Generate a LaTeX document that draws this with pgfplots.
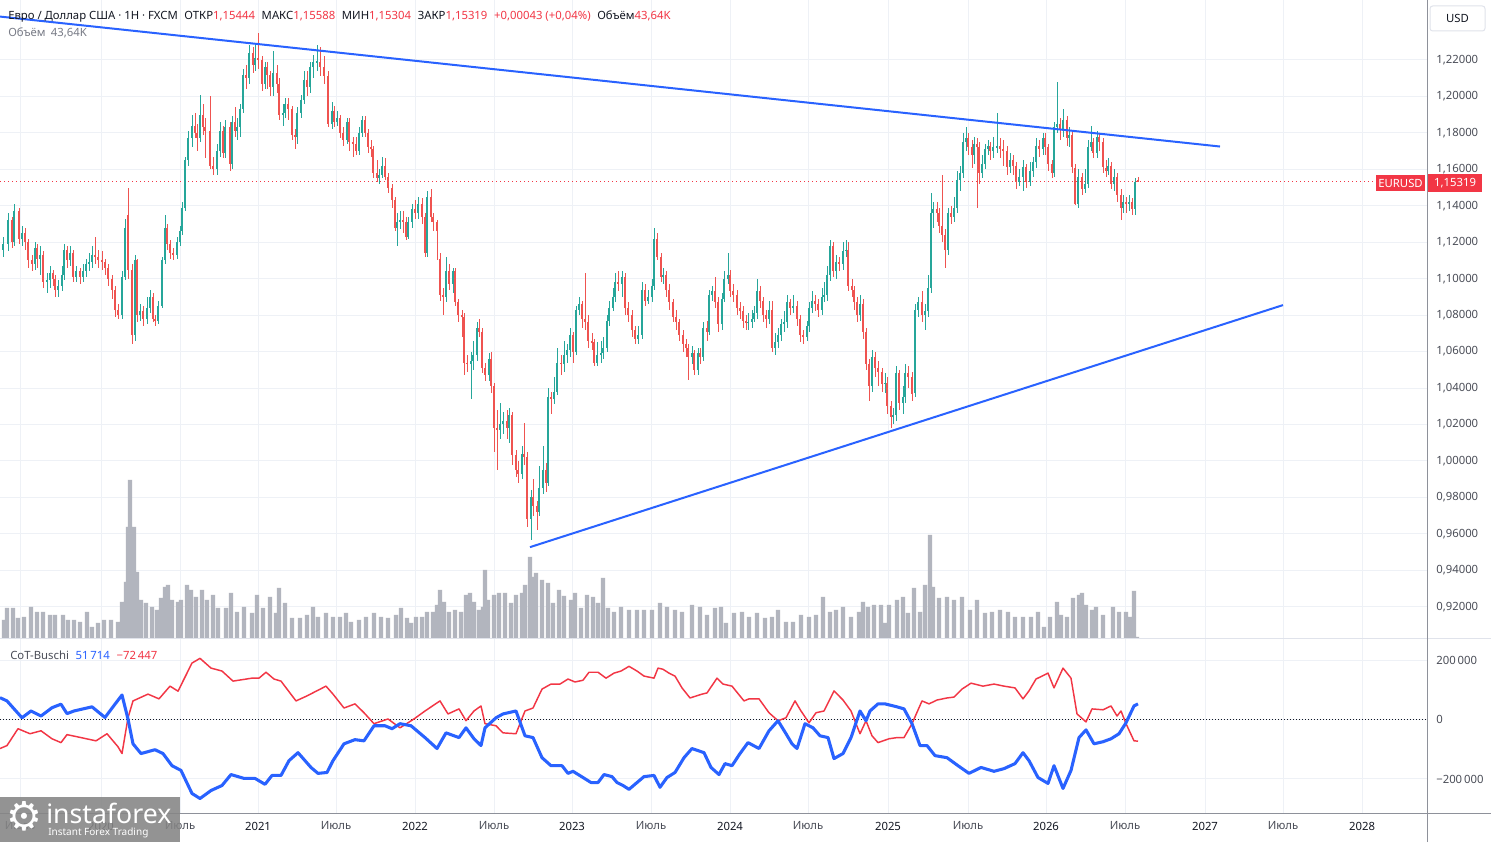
\documentclass[border=0pt]{standalone}
\usepackage{fontspec}
\setmainfont{Noto Sans}
\newfontfamily\symfont{DejaVu Sans}
\usepackage{pgfplots}
\usepackage{pgfplotstable}
\pgfplotsset{compat=1.18}
\definecolor{upc}{HTML}{26A69A}
\definecolor{dnc}{HTML}{EF5350}
\definecolor{tvred}{HTML}{F23645}
\definecolor{tvblue}{HTML}{2962FF}
\definecolor{gridc}{HTML}{EEF1F6}
\definecolor{txt}{HTML}{131722}
\definecolor{txt2}{HTML}{4A4D57}
\definecolor{txt3}{HTML}{787B86}
\definecolor{volc}{HTML}{B2B5BE}
\definecolor{sepc}{HTML}{E0E3EB}
\definecolor{axc}{HTML}{8E919A}
\definecolor{logoc}{HTML}{858585}

\pgfplotstableread{
x o c h l
3 1.116 1.119 1.123 1.112
8 1.119 1.132 1.136 1.115
12 1.132 1.120 1.134 1.117
14 1.120 1.137 1.141 1.118
19 1.137 1.122 1.139 1.119
22 1.122 1.125 1.129 1.118
25 1.125 1.120 1.128 1.116
28 1.120 1.110 1.122 1.106
32 1.110 1.108 1.113 1.104
35 1.108 1.117 1.120 1.105
37 1.117 1.111 1.119 1.106
40 1.111 1.113 1.118 1.102
43 1.113 1.098 1.115 1.095
47 1.098 1.099 1.103 1.092
50 1.099 1.103 1.107 1.095
53 1.103 1.100 1.105 1.096
55 1.100 1.094 1.102 1.090
58 1.094 1.096 1.099 1.090
62 1.096 1.102 1.107 1.093
64 1.102 1.116 1.119 1.099
67 1.116 1.110 1.118 1.106
70 1.110 1.114 1.118 1.107
73 1.114 1.101 1.116 1.098
76 1.101 1.104 1.107 1.098
80 1.104 1.101 1.106 1.097
83 1.101 1.104 1.108 1.098
86 1.104 1.108 1.111 1.101
89 1.108 1.109 1.114 1.104
92 1.109 1.113 1.118 1.106
95 1.113 1.112 1.123 1.108
98 1.112 1.110 1.116 1.106
102 1.110 1.109 1.115 1.105
105 1.109 1.106 1.111 1.102
108 1.106 1.100 1.108 1.096
112 1.100 1.094 1.102 1.089
115 1.094 1.083 1.096 1.079
118 1.083 1.080 1.086 1.078
122 1.080 1.101 1.104 1.078
125 1.101 1.128 1.133 1.099
128 1.135 1.105 1.150 1.100
132 1.105 1.069 1.108 1.064
135 1.069 1.110 1.113 1.066
137 1.110 1.080 1.111 1.076
140 1.080 1.082 1.086 1.077
143 1.082 1.078 1.085 1.074
147 1.078 1.084 1.090 1.075
150 1.084 1.090 1.094 1.081
153 1.090 1.078 1.092 1.076
155 1.078 1.077 1.080 1.074
158 1.077 1.085 1.088 1.075
162 1.085 1.110 1.112 1.084
165 1.110 1.128 1.135 1.108
167 1.128 1.119 1.130 1.116
170 1.119 1.114 1.121 1.111
173 1.114 1.113 1.117 1.110
177 1.113 1.120 1.123 1.111
180 1.120 1.126 1.129 1.118
182 1.126 1.139 1.142 1.124
185 1.139 1.165 1.167 1.137
188 1.165 1.177 1.181 1.162
192 1.177 1.184 1.190 1.172
195 1.184 1.180 1.191 1.177
197 1.180 1.177 1.185 1.170
200 1.177 1.190 1.201 1.175
203 1.190 1.183 1.196 1.179
205 1.183 1.181 1.188 1.166
210 1.181 1.162 1.200 1.160
213 1.162 1.160 1.167 1.157
217 1.160 1.170 1.174 1.157
220 1.170 1.181 1.186 1.167
223 1.181 1.169 1.184 1.166
225 1.169 1.183 1.187 1.166
230 1.183 1.163 1.186 1.159
232 1.163 1.186 1.189 1.160
235 1.186 1.181 1.194 1.178
237 1.181 1.183 1.188 1.176
240 1.183 1.193 1.196 1.178
243 1.193 1.212 1.215 1.191
246 1.212 1.210 1.217 1.204
249 1.210 1.224 1.228 1.207
253 1.224 1.217 1.227 1.213
255 1.217 1.221 1.229 1.214
258 1.221 1.220 1.235 1.215
262 1.220 1.207 1.222 1.203
265 1.207 1.216 1.219 1.204
267 1.216 1.212 1.219 1.204
270 1.212 1.205 1.214 1.200
273 1.205 1.213 1.225 1.200
277 1.213 1.207 1.217 1.202
279 1.207 1.190 1.210 1.187
283 1.190 1.191 1.196 1.184
285 1.191 1.196 1.199 1.188
288 1.196 1.193 1.199 1.187
292 1.193 1.179 1.195 1.176
295 1.179 1.178 1.182 1.171
297 1.178 1.191 1.194 1.174
301 1.191 1.198 1.201 1.188
304 1.198 1.209 1.214 1.196
307 1.209 1.205 1.214 1.200
310 1.205 1.216 1.219 1.202
313 1.216 1.219 1.223 1.210
317 1.219 1.219 1.228 1.214
320 1.219 1.216 1.227 1.211
324 1.216 1.211 1.222 1.207
328 1.211 1.185 1.214 1.183
332 1.185 1.192 1.197 1.182
334 1.192 1.186 1.195 1.183
337 1.186 1.188 1.192 1.184
340 1.188 1.180 1.190 1.177
343 1.180 1.176 1.183 1.173
347 1.176 1.186 1.188 1.174
349 1.186 1.175 1.188 1.170
353 1.175 1.174 1.178 1.167
356 1.174 1.170 1.178 1.168
359 1.170 1.180 1.183 1.168
362 1.180 1.187 1.189 1.178
365 1.187 1.180 1.189 1.178
368 1.180 1.172 1.182 1.169
371 1.172 1.171 1.176 1.167
373 1.171 1.158 1.173 1.155
377 1.158 1.155 1.165 1.153
379 1.155 1.157 1.160 1.152
382 1.157 1.162 1.167 1.155
385 1.162 1.156 1.166 1.154
388 1.156 1.150 1.158 1.147
392 1.150 1.143 1.152 1.139
395 1.143 1.128 1.145 1.126
397 1.128 1.131 1.136 1.118
400 1.131 1.132 1.137 1.127
403 1.132 1.131 1.137 1.125
406 1.131 1.123 1.134 1.121
408 1.123 1.131 1.134 1.122
412 1.131 1.138 1.141 1.128
415 1.138 1.136 1.143 1.133
418 1.136 1.141 1.145 1.133
422 1.141 1.134 1.144 1.130
425 1.134 1.114 1.136 1.112
427 1.114 1.145 1.148 1.112
431 1.145 1.134 1.149 1.131
433 1.134 1.131 1.136 1.126
437 1.131 1.126 1.132 1.110
440 1.111 1.091 1.114 1.088
443 1.091 1.090 1.095 1.080
446 1.090 1.104 1.112 1.087
449 1.104 1.097 1.108 1.094
453 1.097 1.104 1.106 1.092
455 1.104 1.087 1.106 1.085
458 1.087 1.080 1.089 1.076
462 1.080 1.079 1.083 1.068
464 1.079 1.054 1.081 1.047
467 1.054 1.053 1.058 1.049
471 1.053 1.055 1.060 1.034
473 1.055 1.058 1.066 1.050
477 1.058 1.073 1.076 1.055
479 1.073 1.071 1.078 1.068
482 1.071 1.051 1.073 1.048
485 1.051 1.047 1.054 1.044
489 1.047 1.056 1.059 1.044
491 1.056 1.041 1.060 1.037
494 1.041 1.018 1.043 1.005
497 1.018 1.017 1.028 0.995
500 1.017 1.020 1.032 1.012
503 1.020 1.022 1.027 1.015
507 1.022 1.018 1.028 1.012
509 1.018 1.025 1.029 1.010
512 1.025 1.003 1.027 0.998
516 1.003 0.995 1.006 0.991
518 0.995 0.993 1.000 0.988
522 0.993 1.004 1.008 0.990
524 1.004 1.002 1.021 0.998
527 1.002 0.968 1.005 0.964
531 0.968 0.980 0.984 0.9567
533 0.980 0.975 0.990 0.970
537 0.975 0.972 0.978 0.962
539 0.972 0.985 0.997 0.970
543 0.985 0.995 1.008 0.982
546 0.995 0.988 0.999 0.983
548 0.988 1.035 1.040 0.986
551 1.035 1.034 1.038 1.026
554 1.034 1.038 1.046 1.031
557 1.038 1.054 1.062 1.036
561 1.054 1.053 1.058 1.047
564 1.053 1.058 1.066 1.049
567 1.058 1.061 1.064 1.054
570 1.061 1.069 1.073 1.057
573 1.069 1.060 1.071 1.054
576 1.060 1.083 1.085 1.058
579 1.083 1.086 1.090 1.080
582 1.086 1.078 1.088 1.073
585 1.078 1.076 1.103 1.072
588 1.076 1.066 1.080 1.062
592 1.066 1.065 1.070 1.061
594 1.065 1.054 1.067 1.052
597 1.054 1.058 1.065 1.052
601 1.058 1.059 1.066 1.054
603 1.059 1.062 1.068 1.056
607 1.062 1.077 1.080 1.060
609 1.077 1.084 1.088 1.074
613 1.084 1.090 1.095 1.082
615 1.090 1.098 1.103 1.087
618 1.098 1.097 1.104 1.093
622 1.097 1.101 1.104 1.090
625 1.101 1.084 1.103 1.080
628 1.084 1.080 1.087 1.076
632 1.080 1.072 1.083 1.068
635 1.072 1.067 1.074 1.064
638 1.067 1.069 1.074 1.064
642 1.069 1.094 1.098 1.067
645 1.094 1.088 1.097 1.085
648 1.088 1.090 1.094 1.086
652 1.090 1.096 1.100 1.087
654 1.096 1.122 1.128 1.094
657 1.122 1.112 1.125 1.110
661 1.112 1.101 1.114 1.098
663 1.101 1.102 1.106 1.097
666 1.102 1.094 1.104 1.090
669 1.094 1.087 1.097 1.083
673 1.087 1.079 1.089 1.076
676 1.079 1.076 1.083 1.072
679 1.076 1.069 1.078 1.066
683 1.069 1.064 1.072 1.060
686 1.064 1.062 1.067 1.057
688 1.062 1.057 1.064 1.0445
692 1.057 1.059 1.063 1.053
694 1.059 1.050 1.061 1.047
698 1.050 1.059 1.062 1.047
700 1.059 1.057 1.062 1.053
703 1.057 1.073 1.076 1.055
707 1.073 1.071 1.077 1.066
709 1.071 1.091 1.094 1.069
712 1.091 1.093 1.096 1.088
715 1.093 1.087 1.101 1.084
718 1.087 1.075 1.090 1.071
722 1.075 1.089 1.092 1.072
724 1.089 1.100 1.104 1.087
728 1.100 1.102 1.114 1.097
730 1.102 1.093 1.105 1.090
733 1.093 1.091 1.097 1.087
737 1.091 1.084 1.094 1.080
740 1.084 1.082 1.087 1.078
743 1.082 1.077 1.085 1.073
746 1.077 1.076 1.080 1.072
748 1.076 1.076 1.081 1.072
752 1.076 1.078 1.083 1.073
754 1.078 1.081 1.085 1.076
757 1.081 1.093 1.100 1.078
760 1.093 1.088 1.096 1.084
763 1.088 1.080 1.090 1.076
766 1.080 1.078 1.083 1.073
769 1.078 1.083 1.088 1.075
772 1.083 1.062 1.088 1.060
775 1.062 1.065 1.070 1.058
778 1.065 1.069 1.073 1.062
781 1.069 1.075 1.078 1.066
784 1.075 1.076 1.082 1.071
787 1.076 1.087 1.091 1.073
790 1.087 1.084 1.089 1.080
793 1.084 1.085 1.091 1.081
797 1.085 1.078 1.088 1.074
800 1.078 1.069 1.080 1.065
803 1.069 1.068 1.072 1.064
807 1.068 1.074 1.077 1.066
809 1.074 1.084 1.087 1.071
812 1.084 1.088 1.093 1.081
815 1.088 1.086 1.091 1.082
818 1.086 1.083 1.089 1.079
822 1.083 1.090 1.095 1.080
824 1.090 1.091 1.098 1.087
827 1.091 1.102 1.107 1.088
830 1.102 1.118 1.121 1.099
833 1.118 1.104 1.120 1.101
836 1.104 1.109 1.113 1.100
839 1.109 1.108 1.112 1.104
843 1.108 1.115 1.120 1.105
846 1.115 1.116 1.121 1.112
848 1.116 1.096 1.120 1.093
852 1.096 1.094 1.100 1.090
854 1.094 1.087 1.096 1.083
857 1.087 1.080 1.090 1.076
860 1.080 1.086 1.091 1.077
863 1.086 1.071 1.089 1.067
866 1.071 1.053 1.073 1.050
869 1.053 1.041 1.056 1.033
872 1.041 1.057 1.061 1.038
875 1.057 1.051 1.060 1.046
878 1.051 1.049 1.055 1.041
882 1.049 1.042 1.051 1.038
885 1.042 1.043 1.048 1.037
887 1.043 1.030 1.046 1.026
891 1.030 1.024 1.033 1.018
893 1.024 1.025 1.029 1.020
896 1.025 1.048 1.052 1.022
899 1.048 1.032 1.050 1.028
903 1.032 1.035 1.041 1.026
905 1.035 1.048 1.053 1.032
908 1.048 1.046 1.052 1.040
912 1.046 1.037 1.049 1.033
915 1.037 1.083 1.086 1.035
918 1.083 1.087 1.090 1.079
922 1.087 1.080 1.093 1.076
925 1.080 1.082 1.086 1.072
928 1.082 1.095 1.102 1.079
931 1.095 1.136 1.147 1.092
933 1.136 1.138 1.142 1.128
937 1.138 1.136 1.142 1.131
939 1.136 1.129 1.139 1.125
942 1.129 1.124 1.157 1.120
945 1.124 1.116 1.127 1.106
948 1.116 1.136 1.139 1.113
951 1.136 1.134 1.140 1.130
954 1.134 1.139 1.145 1.131
957 1.139 1.154 1.159 1.136
960 1.154 1.158 1.162 1.148
963 1.158 1.175 1.180 1.155
966 1.175 1.177 1.183 1.170
968 1.177 1.172 1.180 1.168
972 1.172 1.168 1.176 1.161
974 1.168 1.174 1.178 1.163
977 1.174 1.172 1.177 1.139
979 1.172 1.158 1.175 1.152
982 1.158 1.163 1.168 1.155
985 1.163 1.171 1.174 1.160
988 1.171 1.173 1.176 1.168
990 1.173 1.170 1.175 1.165
993 1.170 1.172 1.178 1.166
997 1.172 1.173 1.191 1.169
1000 1.173 1.171 1.177 1.166
1003 1.171 1.170 1.176 1.162
1007 1.170 1.161 1.173 1.157
1010 1.161 1.165 1.169 1.158
1013 1.165 1.162 1.168 1.157
1016 1.162 1.153 1.164 1.149
1019 1.153 1.156 1.160 1.151
1023 1.156 1.161 1.165 1.148
1026 1.161 1.153 1.163 1.150
1030 1.153 1.159 1.164 1.151
1033 1.159 1.164 1.167 1.156
1036 1.164 1.173 1.177 1.161
1039 1.173 1.171 1.176 1.167
1043 1.171 1.177 1.180 1.168
1045 1.177 1.172 1.180 1.168
1048 1.172 1.163 1.174 1.159
1052 1.163 1.158 1.165 1.155
1054 1.158 1.183 1.186 1.156
1057 1.183 1.185 1.208 1.180
1060 1.185 1.182 1.188 1.176
1063 1.182 1.187 1.193 1.178
1067 1.187 1.177 1.189 1.173
1069 1.177 1.179 1.183 1.172
1072 1.179 1.161 1.181 1.158
1075 1.161 1.141 1.163 1.1405
1078 1.141 1.156 1.160 1.139
1082 1.156 1.149 1.158 1.146
1085 1.149 1.152 1.160 1.147
1088 1.152 1.172 1.176 1.150
1091 1.172 1.175 1.184 1.170
1093 1.175 1.169 1.177 1.166
1097 1.169 1.178 1.181 1.166
1099 1.178 1.175 1.180 1.170
1103 1.175 1.161 1.177 1.158
1106 1.161 1.159 1.165 1.156
1108 1.159 1.162 1.166 1.157
1111 1.162 1.152 1.164 1.149
1114 1.152 1.156 1.160 1.148
1117 1.156 1.146 1.158 1.142
1121 1.146 1.139 1.149 1.132
1123 1.139 1.142 1.146 1.136
1126 1.142 1.141 1.145 1.136
1129 1.141 1.142 1.146 1.137
1132 1.142 1.138 1.144 1.135
1135 1.138 1.153 1.155 1.135
1138 1.1544 1.1532 1.1559 1.1530
}\candles

\pgfplotstableread{
x v
4 19
7 31
13 31
18 21
24 22
31 32
37 27
43 27
50 24
55 24
63 24
68 19
74 19
80 17
87 27
92 12
98 16
104 19
111 19
118 17
122 37
126 57
128 112
130 159
134 112
137 67
141 39
146 36
152 32
157 29
161 41
165 52
168 54
172 39
178 37
181 39
187 54
191 49
196 42
202 49
207 39
213 44
218 31
226 31
231 46
237 27
244 32
252 26
257 44
263 31
270 42
276 26
279 51
285 36
292 21
300 21
307 24
313 32
318 22
326 26
333 22
340 22
346 26
351 17
359 19
366 22
374 26
381 22
388 21
396 24
401 31
407 21
411 16
416 22
422 22
427 27
433 27
437 34
440 49
444 37
449 27
455 29
461 27
466 44
470 46
474 37
479 29
483 32
485 69
488 39
494 44
499 46
505 46
511 36
516 44
522 46
525 54
530 82
533 62
536 66
542 59
548 56
553 36
559 49
564 43
571 39
575 46
581 31
587 44
593 42
598 36
603 61
608 31
614 27
621 32
629 29
637 29
644 29
652 29
660 36
667 32
675 29
682 27
692 34
700 32
707 24
715 31
721 32
726 16
734 26
742 27
749 22
757 26
765 21
772 22
778 29
786 17
793 17
801 24
809 22
816 24
823 42
830 27
836 29
843 32
851 22
859 27
863 37
868 32
874 34
881 34
885 16
889 34
897 39
903 42
908 26
914 51
920 27
925 54
930 104
933 52
939 41
947 42
954 39
962 42
970 29
977 39
985 26
992 27
1000 29
1008 27
1015 22
1023 22
1031 22
1038 27
1044 12
1050 22
1057 37
1061 24
1067 22
1073 41
1079 44
1082 46
1086 34
1092 29
1096 32
1103 24
1113 32
1119 27
1126 27
1130 22
1134 48
1137 2
}\voltab

\pgfplotstableread{
x v
0 75
7 64
22 7
31 30
41 13
52 41
61 53
67 21
74 30
92 44
105 8
115 53
122 84
128 3
133 -81
141 -114
155 -101
163 -114
172 -155
181 -171
192 -249
200 -266
211 -239
222 -222
231 -185
244 -198
255 -198
265 -218
272 -188
281 -188
289 -138
298 -111
311 -161
318 -181
327 -178
333 -138
344 -81
355 -67
364 -71
374 -20
385 -20
392 -30
400 -13
411 -20
425 -60
437 -97
446 -44
459 -60
466 -27
474 -64
481 -87
485 -27
496 7
503 20
516 30
525 -54
533 -60
542 -128
551 -155
562 -155
568 -181
573 -174
583 -195
591 -212
598 -212
604 -185
612 -192
617 -212
623 -222
629 -235
637 -212
644 -192
654 -188
660 -228
667 -195
675 -178
684 -128
692 -97
704 -111
711 -161
719 -185
725 -148
732 -155
740 -114
748 -77
759 -97
769 -37
778 -3
786 -47
792 -81
797 -97
805 -13
813 -27
820 -54
828 -60
834 -131
843 -114
851 -60
860 30
866 -3
870 30
878 54
885 54
897 44
904 37
912 -13
920 -87
927 -87
935 -121
947 -128
958 -155
969 -181
981 -161
994 -174
1004 -165
1015 -148
1023 -111
1029 -138
1038 -195
1048 -215
1054 -155
1063 -232
1071 -171
1079 -60
1086 -34
1094 -81
1103 -74
1111 -64
1119 -47
1126 -10
1134 47
1138 54
}\cotblue

\pgfplotstableread{
x v
0 -97
7 -87
18 -30
30 -47
41 -37
52 -64
61 -77
67 -50
81 -60
96 -71
107 -47
118 -91
122 -114
128 7
133 64
148 87
159 71
170 114
178 97
192 192
200 208
211 175
222 165
233 131
252 141
259 141
266 161
274 138
281 131
296 64
307 81
326 114
333 87
344 40
355 54
364 24
374 -13
388 3
400 -27
414 3
425 30
440 64
448 20
459 37
466 -3
474 30
481 47
485 -13
496 -20
503 -44
516 -47
525 30
533 40
542 104
551 121
560 121
568 138
575 128
583 134
589 161
598 161
606 141
614 158
621 165
629 181
637 165
644 148
654 141
658 175
663 171
669 158
675 148
682 108
690 74
702 87
707 91
717 141
723 121
732 114
744 64
749 71
759 71
769 24
778 -3
786 7
795 64
801 30
809 -10
816 24
824 30
834 98
843 67
851 30
860 -47
866 -3
872 -54
878 -77
889 -64
897 -60
904 -60
912 -13
922 64
929 54
937 67
947 74
954 77
962 104
971 124
983 114
994 121
1004 114
1015 108
1023 71
1029 98
1036 138
1048 158
1054 108
1063 175
1071 141
1077 20
1086 -7
1092 37
1103 34
1111 47
1117 13
1121 30
1126 -13
1134 -71
1138 -72
}\cotred

\pgfplotsset{
  tvaxis/.style={
    scale only axis, anchor=south west,
    width=1070.25pt, xmin=0, xmax=1427,
    axis line style={draw=none}, major tick length=0pt,
    grid style={draw=gridc, line width=0.75pt},
    xmajorgrids, ymajorgrids,
    xtick={20,101,180,258,336,415,494,572,651,730,808,888,968,1046,1125,1205,1283,1362},
    tick label style={font=\fontsize{8.5}{10}\selectfont, text=txt2},
    yticklabel pos=right,
    yticklabel style={anchor=west, inner sep=0pt, xshift=6.75pt},
    clip=true,
  },
  wick/.style={draw=none, mark=none, forget plot,
    error bars/y dir=both, error bars/y explicit, error bars/error mark=none,
    error bars/error bar style={line width=0.7pt, draw=#1}},
  body/.style={draw=none, mark=none, forget plot,
    error bars/y dir=both, error bars/y explicit, error bars/error mark=none,
    error bars/error bar style={line width=1.65pt, draw=#1}},
}

\begin{document}
\begin{tikzpicture}
\useasboundingbox (0pt,0pt) rectangle (1118.25pt,631.5pt);
\fill[white] (0pt,0pt) rectangle (1118.25pt,631.5pt);

% ---------------- price panel ----------------
\begin{axis}[tvaxis, at={(0pt,152.25pt)}, height=479.25pt,
  ymin=0.9023, ymax=1.2529,
  ytick={0.92,0.94,0.96,0.98,1.00,1.02,1.04,1.06,1.08,1.10,1.12,1.14,1.16,1.18,1.20,1.22},
  yticklabels={{0,92000},{0,94000},{0,96000},{0,98000},{1,00000},{1,02000},{1,04000},{1,06000},{1,08000},{1,10000},{1,12000},{1,14000},{1,16000},{1,18000},{1,20000},{1,22000}},
  xticklabels={}]
  % volume (scaled into the bottom of the price panel)
  \addplot[ybar, bar width=3.3pt, bar shift=0pt, fill=volc, draw=none]
    table[x=x, y expr={0.9023+\thisrow{v}/1822}] {\voltab};
  % last price line
  \addplot[tvred, line width=0.75pt, dash pattern=on 0.75pt off 2.25pt]
    coordinates {(0,1.15319) (1427,1.15319)};
  % wicks
  \addplot[restrict expr to domain={\thisrow{c}-\thisrow{o}}{0:1}, wick=upc]
    table[x=x, y expr={(\thisrow{h}+\thisrow{l})/2}, y error expr={(\thisrow{h}-\thisrow{l})/2}] {\candles};
  \addplot[restrict expr to domain={\thisrow{c}-\thisrow{o}}{-1:-0.00001}, wick=dnc]
    table[x=x, y expr={(\thisrow{h}+\thisrow{l})/2}, y error expr={(\thisrow{h}-\thisrow{l})/2}] {\candles};
  % bodies
  \addplot[restrict expr to domain={\thisrow{c}-\thisrow{o}}{0:1}, body=upc]
    table[x=x, y expr={(\thisrow{o}+\thisrow{c})/2}, y error expr={max(abs(\thisrow{c}-\thisrow{o})/2,0.0003)}] {\candles};
  \addplot[restrict expr to domain={\thisrow{c}-\thisrow{o}}{-1:-0.00001}, body=dnc]
    table[x=x, y expr={(\thisrow{o}+\thisrow{c})/2}, y error expr={max(abs(\thisrow{c}-\thisrow{o})/2,0.0003)}] {\candles};
  % trend lines
  \addplot[tvblue, line width=1.5pt] coordinates {(0,1.2438) (1220,1.1725)};
  \addplot[tvblue, line width=1.5pt] coordinates {(530,0.9527) (1283,1.0855)};
\end{axis}

% ---------------- CoT panel ----------------
\begin{axis}[tvaxis, at={(0pt,21.75pt)}, height=130.5pt,
  ymin=-315, ymax=273.4,
  ytick={-200,0,200},
  yticklabels={{−200\,000},{0},{200\,000}},
  xticklabels={{Июль},{\color{txt}2020},{Июль},{\color{txt}2021},{Июль},{\color{txt}2022},{Июль},{\color{txt}2023},{Июль},{\color{txt}2024},{Июль},{\color{txt}2025},{Июль},{\color{txt}2026},{Июль},{\color{txt}2027},{Июль},{\color{txt}2028}},
  xticklabel style={anchor=center, yshift=-9.75pt, text=txt2}]
  \addplot[txt, line width=0.6pt, dash pattern=on 0.75pt off 1.5pt] coordinates {(0,0) (1427,0)};
  \addplot[tvred, line width=1.1pt, line join=round] table[x=x,y=v] {\cotred};
  \addplot[tvblue, line width=2.3pt, line join=round] table[x=x,y=v] {\cotblue};
\end{axis}

% ---------------- frame lines ----------------
\draw[sepc, line width=0.75pt] (0pt,152.25pt) -- (1118.25pt,152.25pt);
\draw[axc, line width=0.75pt] (0pt,21.75pt) -- (1118.25pt,21.75pt);
\draw[axc, line width=0.75pt] (1070.25pt,0pt) -- (1070.25pt,631.5pt);

% ---------------- labels ----------------
\node[anchor=west, inner sep=0pt, font=\fontsize{8.5}{10}\selectfont, text=txt] at (6pt,618.75pt)
  {Евро / Доллар США · 1H · FXCM\hspace{5pt}ОТКР\textcolor{tvred}{1,15444}\hspace{5pt}МАКС\textcolor{tvred}{1,15588}\hspace{5pt}МИН\textcolor{tvred}{1,15304}\hspace{5pt}ЗАКР\textcolor{tvred}{1,15319}\hspace{5pt}\textcolor{tvred}{+0,00043 (+0,04\%)}\hspace{5pt}Объём\textcolor{tvred}{43,64K}};
\node[anchor=west, inner sep=0pt, font=\fontsize{8.5}{10}\selectfont, text=txt3] at (6pt,606.75pt) {Объём\hspace{4pt}43,64K};
\node[anchor=west, inner sep=0pt, font=\fontsize{8.5}{10}\selectfont, text=txt2] at (7.5pt,140.25pt)
  {CoT-Buschi\hspace{5pt}\textcolor{tvblue}{51\,714}\hspace{5pt}\textcolor{tvred}{−72\,447}};

% USD box
\draw[sepc, rounded corners=2pt, fill=white, line width=0.75pt] (1072.5pt,608.25pt) rectangle (1113.75pt,627pt);
\node[font=\fontsize{8.5}{10}\selectfont, text=txt] at (1093.1pt,617.6pt) {USD};

% last price labels
\fill[tvred] (1032pt,488.25pt) rectangle (1068.75pt,500.25pt);
\node[font=\fontsize{8.5}{10}\selectfont, text=white, inner sep=0pt] at (1050.4pt,494.25pt) {EURUSD};
\fill[tvred] (1071pt,487.5pt) rectangle (1111.5pt,501pt);
\node[font=\bfseries\fontsize{8.5}{10}\selectfont, text=white, inner sep=0pt] at (1091.25pt,494.25pt) {1,15319};

% logo (semi-transparent watermark over the first tick labels)
\fill[logoc, opacity=0.88] (0pt,0pt) rectangle (135pt,33.75pt);
\node[text=white, font=\symfont\fontsize{30}{30}\selectfont, inner sep=0pt] at (18.5pt,19pt) {⚙};
\node[anchor=west, text=white, font=\fontsize{20}{20}\selectfont, inner sep=0pt] at (34.5pt,21.5pt) {instaforex};
\node[anchor=west, text=white, font=\fontsize{7.5}{8}\selectfont, inner sep=0pt] at (36pt,6.5pt) {Instant Forex Trading};
\end{tikzpicture}
\end{document}
